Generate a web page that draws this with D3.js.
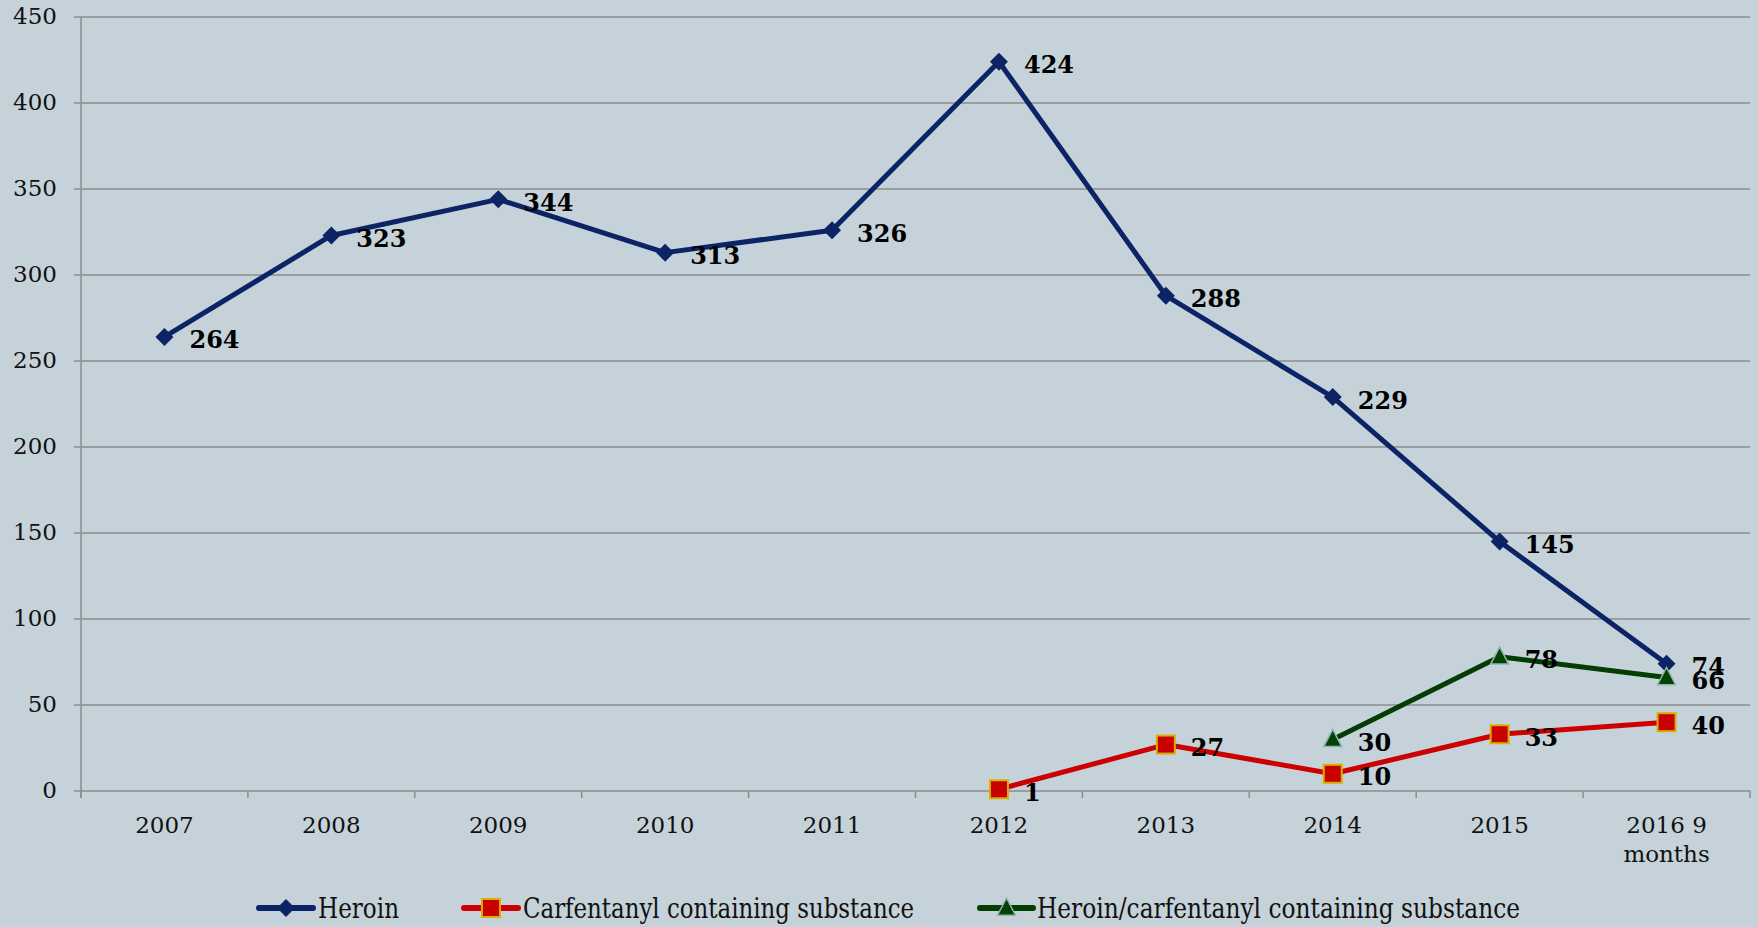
<!DOCTYPE html>
<html>
<head>
<meta charset="utf-8">
<script src="https://cdn.jsdelivr.net/npm/d3@7"></script>
<style>
	html, body { margin: 0; padding: 0; background: #c6d2d9; }
	svg { display: block; }
</style>
</head>
<body>
<div id="chart"></div>
<script>
/* chart data */
const categories = ["2007", "2008", "2009", "2010", "2011", "2012", "2013", "2014", "2015", "2016 9\nmonths"];
const heroin = [264, 323, 344, 313, 326, 424, 288, 229, 145, 74];
const carfentanyl = [null, null, null, null, null, 1, 27, 10, 33, 40];
const heroinCarfentanyl = [null, null, null, null, null, null, null, 30, 78, 66];
const yTicks = [0, 50, 100, 150, 200, 250, 300, 350, 400, 450];
const seriesNames = ["Heroin", "Carfentanyl containing substance", "Heroin/carfentanyl containing substance"];

const W = 1758, H = 927;
const plot = { left: 81, right: 1750, top: 17, bottom: 791 };

const svg = d3.select("#chart").append("svg")
	.attr("width", W)
	.attr("height", H);

svg.append("rect").attr("width", W).attr("height", H).attr("fill", "#c6d2d9");

const x = d3.scaleBand()
	.domain(categories)
	.range([plot.left, plot.right])
	.paddingInner(0).paddingOuter(0);

const y = d3.scaleLinear()
	.domain([0, 450])
	.range([plot.bottom, plot.top]);

const cx = c => x(c) + x.bandwidth() / 2;

/* gridlines */
svg.append("g")
	.selectAll("line")
	.data(yTicks)
	.join("line")
		.attr("x1", plot.left - 7)
		.attr("x2", plot.right)
		.attr("y1", d => y(d))
		.attr("y2", d => y(d))
		.attr("stroke", "#8c8c8c")
		.attr("stroke-width", 1.5);

/* y axis line */
svg.append("line")
	.attr("x1", plot.left).attr("x2", plot.left)
	.attr("y1", plot.top).attr("y2", plot.bottom + 7)
	.attr("stroke", "#8c8c8c").attr("stroke-width", 1.5);

/* y tick labels */
svg.append("g")
	.selectAll("text")
	.data(yTicks)
	.join("text")
		.attr("x", 57)
		.attr("y", d => y(d))
		.attr("dy", "0.3em")
		.attr("text-anchor", "end")
		.style("font-family", "'DejaVu Serif', serif")
		.style("font-size", "23px")
		.attr("fill", "#111")
		.text(d => d);

/* x tick marks on band edges */
const edges = categories.map(c => x(c)).concat([plot.right]);
svg.append("g")
	.selectAll("line")
	.data(edges)
	.join("line")
		.attr("x1", d => d).attr("x2", d => d)
		.attr("y1", plot.bottom).attr("y2", plot.bottom + 7)
		.attr("stroke", "#8c8c8c").attr("stroke-width", 1.5);

/* x labels */
const xl = svg.append("g")
	.selectAll("text")
	.data(categories)
	.join("text")
		.attr("x", d => cx(d))
		.attr("y", 833)
		.attr("text-anchor", "middle")
		.style("font-family", "'DejaVu Serif', serif")
		.style("font-size", "23px")
		.attr("fill", "#111");
xl.selectAll("tspan")
	.data(d => d.split("\n"))
	.join("tspan")
		.attr("x", function() { return d3.select(this.parentNode).attr("x"); })
		.attr("dy", (d, i) => i ? 29 : 0)
		.text(d => d);

const series = [
	{ name: seriesNames[0], values: heroin, color: "#0c2365", marker: "diamond" },
	{ name: seriesNames[1], values: carfentanyl, color: "#cc0000", marker: "square" },
	{ name: seriesNames[2], values: heroinCarfentanyl, color: "#033d03", marker: "triangle" }
];

function drawMarker(g, type, px, py, k = 1) {
	if (type === "diamond") {
		const r = 9 * k;
		g.append("path")
			.attr("d", `M${px},${py - r}L${px + r},${py}L${px},${py + r}L${px - r},${py}Z`)
			.attr("fill", "#0c2365");
	} else if (type === "square") {
		const r = 9 * k;
		g.append("rect")
			.attr("x", px - r).attr("y", py - r)
			.attr("width", 2 * r).attr("height", 2 * r)
			.attr("fill", "#c80000")
			.attr("stroke", "#d8b000").attr("stroke-width", 2);
	} else {
		const r = 9 * k;
		g.append("path")
			.attr("d", `M${px},${py - r - 1}L${px + r},${py + r * 0.8}L${px - r},${py + r * 0.8}Z`)
			.attr("fill", "#054005")
			.attr("stroke", "#8db5ad").attr("stroke-width", 1.5);
	}
}

const line = d3.line()
	.defined(d => d.v != null)
	.x(d => cx(d.c))
	.y(d => y(d.v));

series.forEach(s => {
	const pts = categories.map((c, i) => ({ c: c, v: s.values[i] }));
	const g = svg.append("g");
	g.append("path")
		.datum(pts)
		.attr("d", line)
		.attr("fill", "none")
		.attr("stroke", s.color)
		.attr("stroke-width", 5)
		.attr("stroke-linejoin", "round");
	pts.filter(d => d.v != null).forEach(d => drawMarker(g, s.marker, cx(d.c), y(d.v)));
});

/* data labels */
series.forEach(s => {
	const pts = categories.map((c, i) => ({ c: c, v: s.values[i] })).filter(d => d.v != null);
	svg.append("g")
		.selectAll("text")
		.data(pts)
		.join("text")
			.attr("x", d => cx(d.c) + 25)
			.attr("y", d => y(d.v) + 3)
			.attr("dy", "0.35em")
			.style("font-family", "'DejaVu Serif', serif")
			.style("font-size", "24px")
			.style("font-weight", "bold")
			.attr("fill", "#000")
			.text(d => d.v);
});

/* legend */
const legendItems = [
	{ x0: 259, x1: 313, tx: 318, tw: 81 },
	{ x0: 464, x1: 518, tx: 523, tw: 391 },
	{ x0: 980, x1: 1033, tx: 1037, tw: 483 }
];
const ly = 908;
series.forEach((s, i) => {
	const li = legendItems[i];
	const g = svg.append("g");
	g.append("line")
		.attr("x1", li.x0).attr("x2", li.x1)
		.attr("y1", ly).attr("y2", ly)
		.attr("stroke", s.color).attr("stroke-width", 6)
		.attr("stroke-linecap", "round");
	drawMarker(g, s.marker, (li.x0 + li.x1) / 2, ly, 1);
	g.append("text")
		.attr("x", li.tx)
		.attr("y", ly + 10)
		.attr("textLength", li.tw)
		.attr("lengthAdjust", "spacingAndGlyphs")
		.style("font-family", "'DejaVu Serif', serif")
		.style("font-size", "28px")
		.attr("fill", "#111")
		.text(s.name);
});
</script>
</body>
</html>
